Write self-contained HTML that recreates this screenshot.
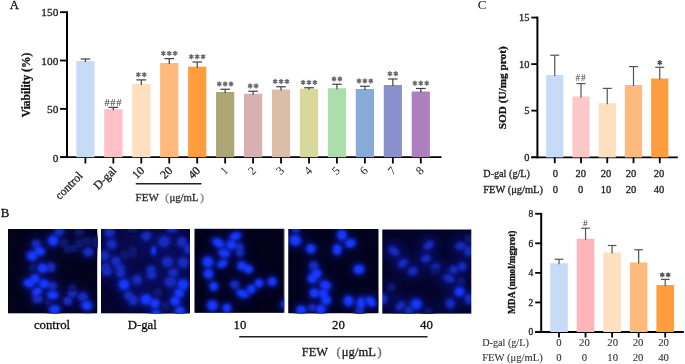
<!DOCTYPE html>
<html><head><meta charset="utf-8"><style>
html,body{margin:0;padding:0;background:#fff;}
svg{display:block;will-change:transform;}
text{font-family:"Liberation Serif", serif;}
</style></head><body>
<svg width="685" height="364" viewBox="0 0 685 364">
<defs>
<filter id="bl" x="-50%" y="-50%" width="200%" height="200%"><feGaussianBlur stdDeviation="1.1"/></filter>
<filter id="bl2" x="-50%" y="-50%" width="200%" height="200%"><feGaussianBlur stdDeviation="2.2"/></filter>
<filter id="bl3" x="-50%" y="-50%" width="200%" height="200%"><feGaussianBlur stdDeviation="5"/></filter>
</defs>
<rect width="685" height="364" fill="#fff"/>

<text x="9.7" y="9.0" font-size="12.8" fill="#111" stroke="#111" stroke-width="0.3">A</text>
<line x1="67.0" y1="11.294999999999993" x2="67.0" y2="158.1" stroke="#000" stroke-width="2"/>
<line x1="60" y1="157.20" x2="67.0" y2="157.20" stroke="#000" stroke-width="1.8"/>
<text x="58.3" y="161.50" font-size="11.3" text-anchor="end" fill="#222" stroke="#222" stroke-width="0.3">0</text>
<line x1="60" y1="108.86" x2="67.0" y2="108.86" stroke="#000" stroke-width="1.8"/>
<text x="58.3" y="113.16" font-size="11.3" text-anchor="end" fill="#222" stroke="#222" stroke-width="0.3">50</text>
<line x1="60" y1="60.53" x2="67.0" y2="60.53" stroke="#000" stroke-width="1.8"/>
<text x="58.3" y="64.83" font-size="11.3" text-anchor="end" fill="#222" stroke="#222" stroke-width="0.3">100</text>
<line x1="60" y1="12.19" x2="67.0" y2="12.19" stroke="#000" stroke-width="1.8"/>
<text x="58.3" y="16.49" font-size="11.3" text-anchor="end" fill="#222" stroke="#222" stroke-width="0.3">150</text>
<line x1="60" y1="157.2" x2="441.5" y2="157.2" stroke="#000" stroke-width="1.8"/>
<rect x="76.30" y="61" width="18.2" height="96.20" fill="#c6dbf6"/>
<line x1="85.40" y1="59" x2="85.40" y2="62" stroke="#404040" stroke-width="1.2"/>
<line x1="80.60" y1="59" x2="90.20" y2="59" stroke="#404040" stroke-width="1.2"/>
<line x1="85.40" y1="157" x2="85.40" y2="163.5" stroke="#000" stroke-width="1.8"/>
<text transform="translate(80.60,173.7) rotate(-45)" font-size="11.8" text-anchor="end" dominant-baseline="central" fill="#222" stroke="#222" stroke-width="0.3">control</text>
<rect x="104.25" y="109.2" width="18.2" height="48.00" fill="#ffc1c5"/>
<line x1="113.35" y1="107.4" x2="113.35" y2="110.2" stroke="#404040" stroke-width="1.2"/>
<line x1="108.55" y1="107.4" x2="118.15" y2="107.4" stroke="#404040" stroke-width="1.2"/>
<line x1="113.35" y1="157" x2="113.35" y2="163.5" stroke="#000" stroke-width="1.8"/>
<text x="113.35" y="105.80" font-size="10.5" text-anchor="middle" fill="#333" letter-spacing="0.7" stroke="none">###</text>
<text transform="translate(114.35,168.4) rotate(-45)" font-size="11.8" text-anchor="end" dominant-baseline="central" fill="#222" stroke="#222" stroke-width="0.3">D-gal</text>
<rect x="132.20" y="84" width="18.2" height="73.20" fill="#fedfc0"/>
<line x1="141.30" y1="79.9" x2="141.30" y2="85" stroke="#404040" stroke-width="1.2"/>
<line x1="136.50" y1="79.9" x2="146.10" y2="79.9" stroke="#404040" stroke-width="1.2"/>
<line x1="141.30" y1="157" x2="141.30" y2="163.5" stroke="#000" stroke-width="1.8"/>
<path d="M138.35,72.65L138.35,76.55M136.66,73.63L140.04,75.58M140.04,73.63L136.66,75.58M144.25,72.65L144.25,76.55M142.56,73.63L145.94,75.58M145.94,73.63L142.56,75.58" stroke="#6a6a6a" stroke-width="1.45" fill="none" stroke-linecap="round"/>
<text transform="translate(142.30,168.4) rotate(-45)" font-size="11.8" text-anchor="end" dominant-baseline="central" fill="#222" stroke="#222" stroke-width="0.3">10</text>
<rect x="160.15" y="63" width="18.2" height="94.20" fill="#feba7c"/>
<line x1="169.25" y1="58.6" x2="169.25" y2="64" stroke="#404040" stroke-width="1.2"/>
<line x1="164.45" y1="58.6" x2="174.05" y2="58.6" stroke="#404040" stroke-width="1.2"/>
<line x1="169.25" y1="157" x2="169.25" y2="163.5" stroke="#000" stroke-width="1.8"/>
<path d="M163.35,51.35L163.35,55.25M161.66,52.33L165.04,54.28M165.04,52.33L161.66,54.28M169.25,51.35L169.25,55.25M167.56,52.33L170.94,54.28M170.94,52.33L167.56,54.28M175.15,51.35L175.15,55.25M173.46,52.33L176.84,54.28M176.84,52.33L173.46,54.28" stroke="#6a6a6a" stroke-width="1.45" fill="none" stroke-linecap="round"/>
<text transform="translate(170.25,168.4) rotate(-45)" font-size="11.8" text-anchor="end" dominant-baseline="central" fill="#222" stroke="#222" stroke-width="0.3">20</text>
<rect x="188.10" y="66.7" width="18.2" height="90.50" fill="#fd9d3e"/>
<line x1="197.20" y1="62" x2="197.20" y2="67.7" stroke="#404040" stroke-width="1.2"/>
<line x1="192.40" y1="62" x2="202.00" y2="62" stroke="#404040" stroke-width="1.2"/>
<line x1="197.20" y1="157" x2="197.20" y2="163.5" stroke="#000" stroke-width="1.8"/>
<path d="M191.30,54.75L191.30,58.65M189.61,55.73L192.99,57.68M192.99,55.73L189.61,57.68M197.20,54.75L197.20,58.65M195.51,55.73L198.89,57.68M198.89,55.73L195.51,57.68M203.10,54.75L203.10,58.65M201.41,55.73L204.79,57.68M204.79,55.73L201.41,57.68" stroke="#6a6a6a" stroke-width="1.45" fill="none" stroke-linecap="round"/>
<text transform="translate(198.20,168.4) rotate(-45)" font-size="11.8" text-anchor="end" dominant-baseline="central" fill="#222" stroke="#222" stroke-width="0.3">40</text>
<rect x="216.05" y="92" width="18.2" height="65.20" fill="#aea574"/>
<line x1="225.15" y1="89.25" x2="225.15" y2="93" stroke="#404040" stroke-width="1.2"/>
<line x1="220.35" y1="89.25" x2="229.95" y2="89.25" stroke="#404040" stroke-width="1.2"/>
<line x1="225.15" y1="157" x2="225.15" y2="163.5" stroke="#000" stroke-width="1.8"/>
<path d="M219.25,82.00L219.25,85.90M217.56,82.98L220.94,84.92M220.94,82.98L217.56,84.92M225.15,82.00L225.15,85.90M223.46,82.98L226.84,84.92M226.84,82.98L223.46,84.92M231.05,82.00L231.05,85.90M229.36,82.98L232.74,84.92M232.74,82.98L229.36,84.92" stroke="#6a6a6a" stroke-width="1.45" fill="none" stroke-linecap="round"/>
<text transform="translate(226.15,168.4) rotate(-45)" font-size="11.8" text-anchor="end" dominant-baseline="central" fill="#222" stroke="none">1</text>
<rect x="244.00" y="93.75" width="18.2" height="63.45" fill="#d8b0b0"/>
<line x1="253.10" y1="91.25" x2="253.10" y2="94.75" stroke="#404040" stroke-width="1.2"/>
<line x1="248.30" y1="91.25" x2="257.90" y2="91.25" stroke="#404040" stroke-width="1.2"/>
<line x1="253.10" y1="157" x2="253.10" y2="163.5" stroke="#000" stroke-width="1.8"/>
<path d="M250.15,84.00L250.15,87.90M248.46,84.98L251.84,86.92M251.84,84.98L248.46,86.92M256.05,84.00L256.05,87.90M254.36,84.98L257.74,86.92M257.74,84.98L254.36,86.92" stroke="#6a6a6a" stroke-width="1.45" fill="none" stroke-linecap="round"/>
<text transform="translate(254.10,168.4) rotate(-45)" font-size="11.8" text-anchor="end" dominant-baseline="central" fill="#222" stroke="none">2</text>
<rect x="271.95" y="89.5" width="18.2" height="67.70" fill="#dcbea8"/>
<line x1="281.05" y1="86.75" x2="281.05" y2="90.5" stroke="#404040" stroke-width="1.2"/>
<line x1="276.25" y1="86.75" x2="285.85" y2="86.75" stroke="#404040" stroke-width="1.2"/>
<line x1="281.05" y1="157" x2="281.05" y2="163.5" stroke="#000" stroke-width="1.8"/>
<path d="M275.15,79.50L275.15,83.40M273.46,80.48L276.84,82.42M276.84,80.48L273.46,82.42M281.05,79.50L281.05,83.40M279.36,80.48L282.74,82.42M282.74,80.48L279.36,82.42M286.95,79.50L286.95,83.40M285.26,80.48L288.64,82.42M288.64,80.48L285.26,82.42" stroke="#6a6a6a" stroke-width="1.45" fill="none" stroke-linecap="round"/>
<text transform="translate(282.05,168.4) rotate(-45)" font-size="11.8" text-anchor="end" dominant-baseline="central" fill="#222" stroke="none">3</text>
<rect x="299.90" y="88.75" width="18.2" height="68.45" fill="#d8d89c"/>
<line x1="309.00" y1="87.75" x2="309.00" y2="89.75" stroke="#404040" stroke-width="1.2"/>
<line x1="304.20" y1="87.75" x2="313.80" y2="87.75" stroke="#404040" stroke-width="1.2"/>
<line x1="309.00" y1="157" x2="309.00" y2="163.5" stroke="#000" stroke-width="1.8"/>
<path d="M303.10,80.50L303.10,84.40M301.41,81.48L304.79,83.42M304.79,81.48L301.41,83.42M309.00,80.50L309.00,84.40M307.31,81.48L310.69,83.42M310.69,81.48L307.31,83.42M314.90,80.50L314.90,84.40M313.21,81.48L316.59,83.42M316.59,81.48L313.21,83.42" stroke="#6a6a6a" stroke-width="1.45" fill="none" stroke-linecap="round"/>
<text transform="translate(310.00,168.4) rotate(-45)" font-size="11.8" text-anchor="end" dominant-baseline="central" fill="#222" stroke="none">4</text>
<rect x="327.85" y="88.25" width="18.2" height="68.95" fill="#abdeab"/>
<line x1="336.95" y1="84.25" x2="336.95" y2="89.25" stroke="#404040" stroke-width="1.2"/>
<line x1="332.15" y1="84.25" x2="341.75" y2="84.25" stroke="#404040" stroke-width="1.2"/>
<line x1="336.95" y1="157" x2="336.95" y2="163.5" stroke="#000" stroke-width="1.8"/>
<path d="M334.00,77.00L334.00,80.90M332.31,77.98L335.69,79.92M335.69,77.98L332.31,79.92M339.90,77.00L339.90,80.90M338.21,77.98L341.59,79.92M341.59,77.98L338.21,79.92" stroke="#6a6a6a" stroke-width="1.45" fill="none" stroke-linecap="round"/>
<text transform="translate(337.95,168.4) rotate(-45)" font-size="11.8" text-anchor="end" dominant-baseline="central" fill="#222" stroke="none">5</text>
<rect x="355.80" y="89" width="18.2" height="68.20" fill="#87abd6"/>
<line x1="364.90" y1="86.25" x2="364.90" y2="90" stroke="#404040" stroke-width="1.2"/>
<line x1="360.10" y1="86.25" x2="369.70" y2="86.25" stroke="#404040" stroke-width="1.2"/>
<line x1="364.90" y1="157" x2="364.90" y2="163.5" stroke="#000" stroke-width="1.8"/>
<path d="M359.00,79.00L359.00,82.90M357.31,79.98L360.69,81.92M360.69,79.98L357.31,81.92M364.90,79.00L364.90,82.90M363.21,79.98L366.59,81.92M366.59,79.98L363.21,81.92M370.80,79.00L370.80,82.90M369.11,79.98L372.49,81.92M372.49,79.98L369.11,81.92" stroke="#6a6a6a" stroke-width="1.45" fill="none" stroke-linecap="round"/>
<text transform="translate(365.90,168.4) rotate(-45)" font-size="11.8" text-anchor="end" dominant-baseline="central" fill="#222" stroke="none">6</text>
<rect x="383.75" y="85" width="18.2" height="72.20" fill="#8a90cd"/>
<line x1="392.85" y1="79" x2="392.85" y2="86" stroke="#404040" stroke-width="1.2"/>
<line x1="388.05" y1="79" x2="397.65" y2="79" stroke="#404040" stroke-width="1.2"/>
<line x1="392.85" y1="157" x2="392.85" y2="163.5" stroke="#000" stroke-width="1.8"/>
<path d="M389.90,71.75L389.90,75.65M388.21,72.73L391.59,74.67M391.59,72.73L388.21,74.67M395.80,71.75L395.80,75.65M394.11,72.73L397.49,74.67M397.49,72.73L394.11,74.67" stroke="#6a6a6a" stroke-width="1.45" fill="none" stroke-linecap="round"/>
<text transform="translate(393.85,168.4) rotate(-45)" font-size="11.8" text-anchor="end" dominant-baseline="central" fill="#222" stroke="none">7</text>
<rect x="411.70" y="91.5" width="18.2" height="65.70" fill="#ae7fbf"/>
<line x1="420.80" y1="88.5" x2="420.80" y2="92.5" stroke="#404040" stroke-width="1.2"/>
<line x1="416.00" y1="88.5" x2="425.60" y2="88.5" stroke="#404040" stroke-width="1.2"/>
<line x1="420.80" y1="157" x2="420.80" y2="163.5" stroke="#000" stroke-width="1.8"/>
<path d="M414.90,81.25L414.90,85.15M413.21,82.23L416.59,84.17M416.59,82.23L413.21,84.17M420.80,81.25L420.80,85.15M419.11,82.23L422.49,84.17M422.49,82.23L419.11,84.17M426.70,81.25L426.70,85.15M425.01,82.23L428.39,84.17M428.39,82.23L425.01,84.17" stroke="#6a6a6a" stroke-width="1.45" fill="none" stroke-linecap="round"/>
<text transform="translate(421.80,168.4) rotate(-45)" font-size="11.8" text-anchor="end" dominant-baseline="central" fill="#222" stroke="none">8</text>
<line x1="135.75" y1="183.75" x2="201.5" y2="183.75" stroke="#222" stroke-width="1.3"/>
<text x="135.6" y="200.6" font-size="11" fill="#333" stroke="#333" stroke-width="0.3">FEW</text>
<text x="165.2" y="200.6" font-size="11" fill="#777" stroke="#777" stroke-width="0.3">(</text>
<text x="169.4" y="200.6" font-size="11" fill="#333" textLength="29.2" lengthAdjust="spacingAndGlyphs" stroke="#333" stroke-width="0.3">μg/mL</text>
<text x="200.2" y="200.6" font-size="11" fill="#777" stroke="#777" stroke-width="0.3">)</text>
<text transform="translate(30.4,85) rotate(-90)" font-size="11.5" font-weight="bold" text-anchor="middle" fill="#111" stroke="#111" stroke-width="0.3">Viability (%)</text>
<text x="477.7" y="9.4" font-size="13.2" fill="#111" stroke="none">C</text>
<line x1="537.4" y1="16.649999999999984" x2="537.4" y2="158.3" stroke="#000" stroke-width="2"/>
<line x1="531.3" y1="157.20" x2="537.4" y2="157.20" stroke="#000" stroke-width="1.8"/>
<text x="529.4" y="160.70" font-size="10.4" text-anchor="end" fill="#222" stroke="#222" stroke-width="0.3">0</text>
<line x1="531.3" y1="110.65" x2="537.4" y2="110.65" stroke="#000" stroke-width="1.8"/>
<text x="529.4" y="114.15" font-size="10.4" text-anchor="end" fill="#222" stroke="#222" stroke-width="0.3">5</text>
<line x1="531.3" y1="64.10" x2="537.4" y2="64.10" stroke="#000" stroke-width="1.8"/>
<text x="529.4" y="67.60" font-size="10.4" text-anchor="end" fill="#222" stroke="#222" stroke-width="0.3">10</text>
<line x1="531.3" y1="17.55" x2="537.4" y2="17.55" stroke="#000" stroke-width="1.8"/>
<text x="529.4" y="21.05" font-size="10.4" text-anchor="end" fill="#222" stroke="#222" stroke-width="0.3">15</text>
<line x1="531.3" y1="157.4" x2="677.8" y2="157.4" stroke="#000" stroke-width="1.8"/>
<rect x="546.15" y="75" width="17.2" height="82.40" fill="#c6dbf6"/>
<line x1="554.75" y1="55.2" x2="554.75" y2="76" stroke="#555" stroke-width="1.2"/>
<line x1="550.25" y1="55.2" x2="559.25" y2="55.2" stroke="#555" stroke-width="1.2"/>
<line x1="554.75" y1="157.4" x2="554.75" y2="163.2" stroke="#000" stroke-width="1.8"/>
<rect x="572.40" y="96.5" width="17.2" height="60.90" fill="#ffc8c8"/>
<line x1="581.00" y1="83.6" x2="581.00" y2="97.5" stroke="#555" stroke-width="1.2"/>
<line x1="576.50" y1="83.6" x2="585.50" y2="83.6" stroke="#555" stroke-width="1.2"/>
<line x1="581.00" y1="157.4" x2="581.00" y2="163.2" stroke="#000" stroke-width="1.8"/>
<text x="581.00" y="80.80" font-size="9.4" text-anchor="middle" fill="#444" letter-spacing="0.9" stroke="none">##</text>
<rect x="598.65" y="103.25" width="17.2" height="54.15" fill="#fedfc0"/>
<line x1="607.25" y1="88.4" x2="607.25" y2="104.25" stroke="#555" stroke-width="1.2"/>
<line x1="602.75" y1="88.4" x2="611.75" y2="88.4" stroke="#555" stroke-width="1.2"/>
<line x1="607.25" y1="157.4" x2="607.25" y2="163.2" stroke="#000" stroke-width="1.8"/>
<rect x="624.90" y="85" width="17.2" height="72.40" fill="#feba7c"/>
<line x1="633.50" y1="66.6" x2="633.50" y2="86" stroke="#555" stroke-width="1.2"/>
<line x1="629.00" y1="66.6" x2="638.00" y2="66.6" stroke="#555" stroke-width="1.2"/>
<line x1="633.50" y1="157.4" x2="633.50" y2="163.2" stroke="#000" stroke-width="1.8"/>
<rect x="651.15" y="78.5" width="17.2" height="78.90" fill="#fd9d3e"/>
<line x1="659.75" y1="67.3" x2="659.75" y2="79.5" stroke="#555" stroke-width="1.2"/>
<line x1="655.25" y1="67.3" x2="664.25" y2="67.3" stroke="#555" stroke-width="1.2"/>
<line x1="659.75" y1="157.4" x2="659.75" y2="163.2" stroke="#000" stroke-width="1.8"/>
<path d="M659.75,60.75L659.75,64.65M658.06,61.72L661.44,63.67M661.44,61.72L658.06,63.67" stroke="#505050" stroke-width="1.45" fill="none" stroke-linecap="round"/>
<text transform="translate(505.6,87.8) rotate(-90)" font-size="11.2" font-weight="bold" text-anchor="middle" fill="#111" textLength="83" lengthAdjust="spacingAndGlyphs" stroke="#111" stroke-width="0.3">SOD (U/mg prot)</text>
<text x="483.3" y="176.8" font-size="10.2" fill="#222" textLength="46.6" lengthAdjust="spacingAndGlyphs" stroke="#222" stroke-width="0.3">D-gal (g/L)</text>
<text x="483.3" y="193.3" font-size="10.2" fill="#222" textLength="59.6" lengthAdjust="spacingAndGlyphs" stroke="#222" stroke-width="0.3">FEW (μg/mL)</text>
<text x="555.40" y="176.8" font-size="10.5" text-anchor="middle" fill="#222" stroke="#222" stroke-width="0.3">0</text>
<text x="555.40" y="193.3" font-size="10.5" text-anchor="middle" fill="#222" stroke="#222" stroke-width="0.3">0</text>
<text x="580.70" y="176.8" font-size="10.5" text-anchor="middle" fill="#222" stroke="#222" stroke-width="0.3">20</text>
<text x="580.70" y="193.3" font-size="10.5" text-anchor="middle" fill="#222" stroke="#222" stroke-width="0.3">0</text>
<text x="605.90" y="176.8" font-size="10.5" text-anchor="middle" fill="#222" stroke="#222" stroke-width="0.3">20</text>
<text x="605.90" y="193.3" font-size="10.5" text-anchor="middle" fill="#222" stroke="#222" stroke-width="0.3">10</text>
<text x="631.00" y="176.8" font-size="10.5" text-anchor="middle" fill="#222" stroke="#222" stroke-width="0.3">20</text>
<text x="631.00" y="193.3" font-size="10.5" text-anchor="middle" fill="#222" stroke="#222" stroke-width="0.3">20</text>
<text x="659.10" y="176.8" font-size="10.5" text-anchor="middle" fill="#222" stroke="#222" stroke-width="0.3">20</text>
<text x="659.10" y="193.3" font-size="10.5" text-anchor="middle" fill="#222" stroke="#222" stroke-width="0.3">40</text>
<line x1="541.2" y1="212.85999999999999" x2="541.2" y2="332.9" stroke="#000" stroke-width="2"/>
<line x1="535.2" y1="332.00" x2="541.2" y2="332.00" stroke="#000" stroke-width="1.8"/>
<text x="533.2" y="335.30" font-size="9.4" text-anchor="end" fill="#222" stroke="#222" stroke-width="0.3">0</text>
<line x1="535.2" y1="302.44" x2="541.2" y2="302.44" stroke="#000" stroke-width="1.8"/>
<text x="533.2" y="305.74" font-size="9.4" text-anchor="end" fill="#222" stroke="#222" stroke-width="0.3">2</text>
<line x1="535.2" y1="272.88" x2="541.2" y2="272.88" stroke="#000" stroke-width="1.8"/>
<text x="533.2" y="276.18" font-size="9.4" text-anchor="end" fill="#222" stroke="#222" stroke-width="0.3">4</text>
<line x1="535.2" y1="243.32" x2="541.2" y2="243.32" stroke="#000" stroke-width="1.8"/>
<text x="533.2" y="246.62" font-size="9.4" text-anchor="end" fill="#222" stroke="#222" stroke-width="0.3">6</text>
<line x1="535.2" y1="213.76" x2="541.2" y2="213.76" stroke="#000" stroke-width="1.8"/>
<text x="533.2" y="217.06" font-size="9.4" text-anchor="end" fill="#222" stroke="#222" stroke-width="0.3">8</text>
<line x1="535.2" y1="332" x2="683.8" y2="332" stroke="#000" stroke-width="1.8"/>
<rect x="550.20" y="263.25" width="17.6" height="68.75" fill="#c6dbf6"/>
<line x1="559.00" y1="259.25" x2="559.00" y2="264.25" stroke="#555" stroke-width="1.2"/>
<line x1="554.70" y1="259.25" x2="563.30" y2="259.25" stroke="#555" stroke-width="1.2"/>
<line x1="559.00" y1="332" x2="559.00" y2="337.5" stroke="#000" stroke-width="1.8"/>
<rect x="576.75" y="238.75" width="17.6" height="93.25" fill="#ffb4b9"/>
<line x1="585.55" y1="228.25" x2="585.55" y2="239.75" stroke="#555" stroke-width="1.2"/>
<line x1="581.25" y1="228.25" x2="589.85" y2="228.25" stroke="#555" stroke-width="1.2"/>
<line x1="585.55" y1="332" x2="585.55" y2="337.5" stroke="#000" stroke-width="1.8"/>
<text x="585.55" y="225.95" font-size="9" text-anchor="middle" fill="#333" letter-spacing="0.7" stroke="none">#</text>
<rect x="603.30" y="252.5" width="17.6" height="79.50" fill="#fedfc0"/>
<line x1="612.10" y1="245.5" x2="612.10" y2="253.5" stroke="#555" stroke-width="1.2"/>
<line x1="607.80" y1="245.5" x2="616.40" y2="245.5" stroke="#555" stroke-width="1.2"/>
<line x1="612.10" y1="332" x2="612.10" y2="337.5" stroke="#000" stroke-width="1.8"/>
<rect x="629.85" y="262.5" width="17.6" height="69.50" fill="#feba7c"/>
<line x1="638.65" y1="249.75" x2="638.65" y2="263.5" stroke="#555" stroke-width="1.2"/>
<line x1="634.35" y1="249.75" x2="642.95" y2="249.75" stroke="#555" stroke-width="1.2"/>
<line x1="638.65" y1="332" x2="638.65" y2="337.5" stroke="#000" stroke-width="1.8"/>
<rect x="656.40" y="285" width="17.6" height="47.00" fill="#fd9d3e"/>
<line x1="665.20" y1="279.4" x2="665.20" y2="286" stroke="#555" stroke-width="1.2"/>
<line x1="660.90" y1="279.4" x2="669.50" y2="279.4" stroke="#555" stroke-width="1.2"/>
<line x1="665.20" y1="332" x2="665.20" y2="337.5" stroke="#000" stroke-width="1.8"/>
<path d="M662.25,272.85L662.25,276.75M660.56,273.82L663.94,275.77M663.94,273.82L660.56,275.77M668.15,272.85L668.15,276.75M666.46,273.82L669.84,275.77M669.84,273.82L666.46,275.77" stroke="#555" stroke-width="1.45" fill="none" stroke-linecap="round"/>
<text transform="translate(515.0,272.3) rotate(-90)" font-size="10.3" font-weight="bold" text-anchor="middle" fill="#111" textLength="83.5" lengthAdjust="spacingAndGlyphs" stroke="#111" stroke-width="0.3">MDA (nmol/mgprot)</text>
<text x="482.2" y="345.8" font-size="10.2" fill="#333" stroke="#333" stroke-width="0.1" textLength="46.6" lengthAdjust="spacingAndGlyphs">D-gal (g/L)</text>
<text x="482.2" y="360.7" font-size="10.2" fill="#333" stroke="#333" stroke-width="0.1" textLength="60.6" lengthAdjust="spacingAndGlyphs">FEW (μg/mL)</text>
<text x="558.80" y="345.8" font-size="10.7" text-anchor="middle" fill="#333" stroke="#333" stroke-width="0.1">0</text>
<text x="558.80" y="360.7" font-size="10.7" text-anchor="middle" fill="#333" stroke="#333" stroke-width="0.1">0</text>
<text x="584.40" y="345.8" font-size="10.7" text-anchor="middle" fill="#333" stroke="#333" stroke-width="0.1">20</text>
<text x="584.40" y="360.7" font-size="10.7" text-anchor="middle" fill="#333" stroke="#333" stroke-width="0.1">0</text>
<text x="612.70" y="345.8" font-size="10.7" text-anchor="middle" fill="#333" stroke="#333" stroke-width="0.1">20</text>
<text x="612.70" y="360.7" font-size="10.7" text-anchor="middle" fill="#333" stroke="#333" stroke-width="0.1">10</text>
<text x="638.10" y="345.8" font-size="10.7" text-anchor="middle" fill="#333" stroke="#333" stroke-width="0.1">20</text>
<text x="638.10" y="360.7" font-size="10.7" text-anchor="middle" fill="#333" stroke="#333" stroke-width="0.1">20</text>
<text x="663.50" y="345.8" font-size="10.7" text-anchor="middle" fill="#333" stroke="#333" stroke-width="0.1">20</text>
<text x="663.50" y="360.7" font-size="10.7" text-anchor="middle" fill="#333" stroke="#333" stroke-width="0.1">40</text>
<text x="0.8" y="216.8" font-size="12.9" fill="#111" stroke="#111" stroke-width="0.3">B</text>
<svg x="8" y="229" width="89.2" height="84.3" viewBox="0 0 89.2 84.3" overflow="hidden">
<rect width="89.2" height="84.3" fill="#04031c"/>
<g filter="url(#bl3)" opacity="0.25">
<circle cx="51.2" cy="2.6" r="9.00" fill="#0a1490"/>
<circle cx="45.3" cy="11.6" r="10.00" fill="#0a1490"/>
<circle cx="28.3" cy="15.1" r="9.00" fill="#0a1490"/>
<circle cx="31.5" cy="22.1" r="10.00" fill="#0a1490"/>
<circle cx="24.3" cy="26.9" r="10.00" fill="#0a1490"/>
<circle cx="55.2" cy="13.8" r="10.00" fill="#0a1490"/>
<circle cx="59.8" cy="19.7" r="8.00" fill="#0a1490"/>
<circle cx="71.6" cy="14.5" r="10.00" fill="#0a1490"/>
<circle cx="78.8" cy="12.5" r="10.00" fill="#0a1490"/>
<circle cx="80.2" cy="23" r="10.00" fill="#0a1490"/>
<circle cx="87.4" cy="13.1" r="10.00" fill="#0a1490"/>
<circle cx="71" cy="2.6" r="9.00" fill="#0a1490"/>
<circle cx="34.8" cy="39.2" r="10.00" fill="#0a1490"/>
<circle cx="42.7" cy="38.4" r="9.00" fill="#0a1490"/>
<circle cx="25" cy="38.8" r="8.00" fill="#0a1490"/>
<circle cx="65.7" cy="19" r="8.00" fill="#0a1490"/>
<circle cx="26.9" cy="49.9" r="9.00" fill="#0a1490"/>
<circle cx="21" cy="54.1" r="10.00" fill="#0a1490"/>
<circle cx="36.1" cy="54.8" r="9.00" fill="#0a1490"/>
<circle cx="44" cy="56.8" r="10.00" fill="#0a1490"/>
<circle cx="28.9" cy="62.7" r="10.00" fill="#0a1490"/>
<circle cx="44.7" cy="66.2" r="11.00" fill="#0a1490"/>
<circle cx="29.6" cy="69.9" r="10.00" fill="#0a1490"/>
<circle cx="40.7" cy="72.5" r="9.00" fill="#0a1490"/>
<circle cx="64.4" cy="64" r="9.00" fill="#0a1490"/>
<circle cx="74.9" cy="67.9" r="10.00" fill="#0a1490"/>
<circle cx="59.8" cy="71.9" r="9.00" fill="#0a1490"/>
<circle cx="78.8" cy="76.5" r="10.00" fill="#0a1490"/>
<circle cx="46.6" cy="80.4" r="10.00" fill="#0a1490"/>
<circle cx="64.4" cy="59.4" r="8.00" fill="#0a1490"/>
</g>
<g filter="url(#bl2)">
<ellipse cx="51.2" cy="2.6" rx="6.08" ry="6.08" fill="#0a187a"/>
<ellipse cx="45.3" cy="11.6" rx="6.75" ry="6.48" fill="#0f24b0"/>
<ellipse cx="28.3" cy="15.1" rx="6.08" ry="5.67" fill="#0a187a"/>
<ellipse cx="31.5" cy="22.1" rx="6.75" ry="5.40" fill="#0f24b0" transform="rotate(10 31.5 22.1)"/>
<ellipse cx="24.3" cy="26.9" rx="6.75" ry="6.21" fill="#0f24b0"/>
<ellipse cx="55.2" cy="13.8" rx="6.75" ry="6.08" fill="#070e40"/>
<ellipse cx="59.8" cy="19.7" rx="5.40" ry="5.40" fill="#070e40"/>
<ellipse cx="71.6" cy="14.5" rx="6.75" ry="6.08" fill="#070e40"/>
<ellipse cx="78.8" cy="12.5" rx="6.75" ry="6.08" fill="#070e40"/>
<ellipse cx="80.2" cy="23" rx="6.75" ry="6.08" fill="#0a187a"/>
<ellipse cx="87.4" cy="13.1" rx="5.40" ry="6.75" fill="#070e40"/>
<ellipse cx="71" cy="2.6" rx="6.08" ry="5.40" fill="#070e40"/>
<ellipse cx="34.8" cy="39.2" rx="6.75" ry="6.08" fill="#0f24b0"/>
<ellipse cx="42.7" cy="38.4" rx="6.08" ry="6.08" fill="#0a187a"/>
<ellipse cx="25" cy="38.8" rx="5.40" ry="5.40" fill="#070e40"/>
<ellipse cx="65.7" cy="19" rx="5.40" ry="5.40" fill="#070e40"/>
<ellipse cx="26.9" cy="49.9" rx="6.08" ry="5.67" fill="#0f24b0"/>
<ellipse cx="21" cy="54.1" rx="6.75" ry="5.40" fill="#0f24b0" transform="rotate(20 21 54.1)"/>
<ellipse cx="36.1" cy="54.8" rx="6.08" ry="5.80" fill="#0f24b0"/>
<ellipse cx="44" cy="56.8" rx="6.75" ry="5.40" fill="#0a187a" transform="rotate(10 44 56.8)"/>
<ellipse cx="28.9" cy="62.7" rx="6.75" ry="4.86" fill="#0f24b0" transform="rotate(-30 28.9 62.7)"/>
<ellipse cx="44.7" cy="66.2" rx="7.43" ry="5.40" fill="#0f24b0"/>
<ellipse cx="29.6" cy="69.9" rx="6.75" ry="5.40" fill="#0a187a"/>
<ellipse cx="40.7" cy="72.5" rx="6.08" ry="5.40" fill="#070e40"/>
<ellipse cx="64.4" cy="64" rx="6.08" ry="6.08" fill="#0a187a"/>
<ellipse cx="74.9" cy="67.9" rx="6.75" ry="6.08" fill="#0a187a"/>
<ellipse cx="59.8" cy="71.9" rx="6.08" ry="5.67" fill="#0a187a"/>
<ellipse cx="78.8" cy="76.5" rx="6.75" ry="6.08" fill="#0f24b0" transform="rotate(20 78.8 76.5)"/>
<ellipse cx="46.6" cy="80.4" rx="6.75" ry="5.40" fill="#0f24b0"/>
<ellipse cx="64.4" cy="59.4" rx="5.40" ry="5.40" fill="#070e40"/>
</g>
<g filter="url(#bl)">
<ellipse cx="51.2" cy="2.6" rx="4.05" ry="4.05" fill="#1229bc"/>
<ellipse cx="45.3" cy="11.6" rx="4.50" ry="4.32" fill="#1838ff"/>
<ellipse cx="28.3" cy="15.1" rx="4.05" ry="3.78" fill="#1229bc"/>
<ellipse cx="31.5" cy="22.1" rx="4.50" ry="3.60" fill="#1838ff" transform="rotate(10 31.5 22.1)"/>
<ellipse cx="24.3" cy="26.9" rx="4.50" ry="4.14" fill="#1838ff"/>
<ellipse cx="55.2" cy="13.8" rx="4.50" ry="4.05" fill="#0a1772"/>
<ellipse cx="59.8" cy="19.7" rx="3.60" ry="3.60" fill="#0a1772"/>
<ellipse cx="71.6" cy="14.5" rx="4.50" ry="4.05" fill="#0a1772"/>
<ellipse cx="78.8" cy="12.5" rx="4.50" ry="4.05" fill="#0a1772"/>
<ellipse cx="80.2" cy="23" rx="4.50" ry="4.05" fill="#1229bc"/>
<ellipse cx="87.4" cy="13.1" rx="3.60" ry="4.50" fill="#0a1772"/>
<ellipse cx="71" cy="2.6" rx="4.05" ry="3.60" fill="#0a1772"/>
<ellipse cx="34.8" cy="39.2" rx="4.50" ry="4.05" fill="#1838ff"/>
<ellipse cx="42.7" cy="38.4" rx="4.05" ry="4.05" fill="#1229bc"/>
<ellipse cx="25" cy="38.8" rx="3.60" ry="3.60" fill="#0a1772"/>
<ellipse cx="65.7" cy="19" rx="3.60" ry="3.60" fill="#0a1772"/>
<ellipse cx="26.9" cy="49.9" rx="4.05" ry="3.78" fill="#1838ff"/>
<ellipse cx="21" cy="54.1" rx="4.50" ry="3.60" fill="#1838ff" transform="rotate(20 21 54.1)"/>
<ellipse cx="36.1" cy="54.8" rx="4.05" ry="3.87" fill="#1838ff"/>
<ellipse cx="44" cy="56.8" rx="4.50" ry="3.60" fill="#1229bc" transform="rotate(10 44 56.8)"/>
<ellipse cx="28.9" cy="62.7" rx="4.50" ry="3.24" fill="#1838ff" transform="rotate(-30 28.9 62.7)"/>
<ellipse cx="44.7" cy="66.2" rx="4.95" ry="3.60" fill="#1838ff"/>
<ellipse cx="29.6" cy="69.9" rx="4.50" ry="3.60" fill="#1229bc"/>
<ellipse cx="40.7" cy="72.5" rx="4.05" ry="3.60" fill="#0a1772"/>
<ellipse cx="64.4" cy="64" rx="4.05" ry="4.05" fill="#1229bc"/>
<ellipse cx="74.9" cy="67.9" rx="4.50" ry="4.05" fill="#1229bc"/>
<ellipse cx="59.8" cy="71.9" rx="4.05" ry="3.78" fill="#1229bc"/>
<ellipse cx="78.8" cy="76.5" rx="4.50" ry="4.05" fill="#1838ff" transform="rotate(20 78.8 76.5)"/>
<ellipse cx="46.6" cy="80.4" rx="4.50" ry="3.60" fill="#1838ff"/>
<ellipse cx="64.4" cy="59.4" rx="3.60" ry="3.60" fill="#0a1772"/>
</g></svg>
<svg x="101" y="229" width="89" height="84.3" viewBox="0 0 89 84.3" overflow="hidden">
<rect width="89" height="84.3" fill="#05042c"/>
<g filter="url(#bl3)" opacity="0.45">
<circle cx="8.5" cy="3.3" r="10.00" fill="#0a1490"/>
<circle cx="10.5" cy="15.1" r="10.00" fill="#0a1490"/>
<circle cx="3.3" cy="26.9" r="10.00" fill="#0a1490"/>
<circle cx="15.1" cy="32.2" r="10.00" fill="#0a1490"/>
<circle cx="4.6" cy="38.8" r="10.00" fill="#0a1490"/>
<circle cx="31.5" cy="23" r="12.00" fill="#0a1490"/>
<circle cx="23.7" cy="26.3" r="10.00" fill="#0a1490"/>
<circle cx="45.3" cy="7.2" r="10.00" fill="#0a1490"/>
<circle cx="52.6" cy="21.7" r="9.00" fill="#0a1490"/>
<circle cx="63.1" cy="12.5" r="12.00" fill="#0a1490"/>
<circle cx="80.8" cy="13.1" r="10.00" fill="#0a1490"/>
<circle cx="66.4" cy="32.9" r="11.00" fill="#0a1490"/>
<circle cx="82.1" cy="33.5" r="11.00" fill="#0a1490"/>
<circle cx="86.7" cy="19.7" r="10.00" fill="#0a1490"/>
<circle cx="19" cy="39.4" r="10.00" fill="#0a1490"/>
<circle cx="71" cy="0.5" r="10.00" fill="#0a1490"/>
<circle cx="31.5" cy="0.5" r="10.00" fill="#0a1490"/>
<circle cx="50" cy="40.7" r="9.00" fill="#0a1490"/>
<circle cx="5.9" cy="42.3" r="10.00" fill="#0a1490"/>
<circle cx="19.7" cy="44.3" r="9.00" fill="#0a1490"/>
<circle cx="50.6" cy="45.6" r="10.00" fill="#0a1490"/>
<circle cx="72.3" cy="43.6" r="10.00" fill="#0a1490"/>
<circle cx="23" cy="55.5" r="10.00" fill="#0a1490"/>
<circle cx="36.1" cy="50.9" r="10.00" fill="#0a1490"/>
<circle cx="69.6" cy="52.8" r="12.00" fill="#0a1490"/>
<circle cx="82.1" cy="55.5" r="10.00" fill="#0a1490"/>
<circle cx="78.2" cy="64" r="9.00" fill="#0a1490"/>
<circle cx="74.2" cy="71.9" r="9.00" fill="#0a1490"/>
<circle cx="27.6" cy="66.6" r="9.00" fill="#0a1490"/>
<circle cx="32.2" cy="71.2" r="10.00" fill="#0a1490"/>
<circle cx="45.3" cy="70.6" r="11.00" fill="#0a1490"/>
<circle cx="53.9" cy="74.5" r="9.00" fill="#0a1490"/>
<circle cx="78.8" cy="81.7" r="9.00" fill="#0a1490"/>
<circle cx="56.5" cy="63.3" r="9.00" fill="#0a1490"/>
<circle cx="64.4" cy="77.1" r="9.00" fill="#0a1490"/>
<circle cx="55.2" cy="84.4" r="9.00" fill="#0a1490"/>
</g>
<g filter="url(#bl2)">
<ellipse cx="8.5" cy="3.3" rx="6.75" ry="6.75" fill="#0a187a"/>
<ellipse cx="10.5" cy="15.1" rx="6.75" ry="6.75" fill="#0a187a"/>
<ellipse cx="3.3" cy="26.9" rx="6.75" ry="6.75" fill="#0a187a"/>
<ellipse cx="15.1" cy="32.2" rx="6.75" ry="6.75" fill="#0a187a"/>
<ellipse cx="4.6" cy="38.8" rx="6.75" ry="6.08" fill="#0a187a"/>
<ellipse cx="31.5" cy="23" rx="6.08" ry="8.10" fill="#070e40"/>
<ellipse cx="23.7" cy="26.3" rx="6.75" ry="6.75" fill="#070e40"/>
<ellipse cx="45.3" cy="7.2" rx="6.75" ry="6.08" fill="#0a187a" transform="rotate(-30 45.3 7.2)"/>
<ellipse cx="52.6" cy="21.7" rx="2.97" ry="6.08" fill="#0f24b0"/>
<ellipse cx="63.1" cy="12.5" rx="8.10" ry="8.10" fill="#0a187a"/>
<ellipse cx="80.8" cy="13.1" rx="6.75" ry="6.75" fill="#0a187a"/>
<ellipse cx="66.4" cy="32.9" rx="7.43" ry="7.43" fill="#0a187a"/>
<ellipse cx="82.1" cy="33.5" rx="7.43" ry="7.43" fill="#0a187a"/>
<ellipse cx="86.7" cy="19.7" rx="5.40" ry="6.75" fill="#0a187a"/>
<ellipse cx="19" cy="39.4" rx="6.75" ry="6.08" fill="#0a187a"/>
<ellipse cx="71" cy="0.5" rx="6.75" ry="4.05" fill="#0a187a"/>
<ellipse cx="31.5" cy="0.5" rx="6.75" ry="4.05" fill="#070e40"/>
<ellipse cx="50" cy="40.7" rx="6.08" ry="6.08" fill="#0a187a"/>
<ellipse cx="5.9" cy="42.3" rx="6.75" ry="6.08" fill="#0a187a"/>
<ellipse cx="19.7" cy="44.3" rx="6.08" ry="6.08" fill="#0a187a"/>
<ellipse cx="50.6" cy="45.6" rx="6.75" ry="6.75" fill="#0a187a"/>
<ellipse cx="72.3" cy="43.6" rx="6.75" ry="6.08" fill="#0a187a"/>
<ellipse cx="23" cy="55.5" rx="6.75" ry="6.75" fill="#0f24b0"/>
<ellipse cx="36.1" cy="50.9" rx="6.75" ry="6.75" fill="#0a187a"/>
<ellipse cx="69.6" cy="52.8" rx="8.10" ry="7.43" fill="#0a187a"/>
<ellipse cx="82.1" cy="55.5" rx="6.75" ry="6.75" fill="#0f24b0"/>
<ellipse cx="78.2" cy="64" rx="6.08" ry="5.80" fill="#0f24b0"/>
<ellipse cx="74.2" cy="71.9" rx="6.08" ry="5.80" fill="#0f24b0"/>
<ellipse cx="27.6" cy="66.6" rx="6.08" ry="6.08" fill="#0a187a"/>
<ellipse cx="32.2" cy="71.2" rx="6.75" ry="6.75" fill="#0a187a"/>
<ellipse cx="45.3" cy="70.6" rx="7.43" ry="6.75" fill="#0f24b0"/>
<ellipse cx="53.9" cy="74.5" rx="6.08" ry="6.08" fill="#0f24b0"/>
<ellipse cx="78.8" cy="81.7" rx="6.08" ry="5.40" fill="#0f24b0"/>
<ellipse cx="56.5" cy="63.3" rx="6.08" ry="6.08" fill="#070e40"/>
<ellipse cx="64.4" cy="77.1" rx="6.08" ry="6.08" fill="#070e40"/>
<ellipse cx="55.2" cy="84.4" rx="6.08" ry="4.05" fill="#0f24b0"/>
</g>
<g filter="url(#bl)">
<ellipse cx="8.5" cy="3.3" rx="4.50" ry="4.50" fill="#1229bc"/>
<ellipse cx="10.5" cy="15.1" rx="4.50" ry="4.50" fill="#1229bc"/>
<ellipse cx="3.3" cy="26.9" rx="4.50" ry="4.50" fill="#1229bc"/>
<ellipse cx="15.1" cy="32.2" rx="4.50" ry="4.50" fill="#1229bc"/>
<ellipse cx="4.6" cy="38.8" rx="4.50" ry="4.05" fill="#1229bc"/>
<ellipse cx="31.5" cy="23" rx="4.05" ry="5.40" fill="#0a1772"/>
<ellipse cx="23.7" cy="26.3" rx="4.50" ry="4.50" fill="#0a1772"/>
<ellipse cx="45.3" cy="7.2" rx="4.50" ry="4.05" fill="#1229bc" transform="rotate(-30 45.3 7.2)"/>
<ellipse cx="52.6" cy="21.7" rx="1.98" ry="4.05" fill="#1838ff"/>
<ellipse cx="63.1" cy="12.5" rx="5.40" ry="5.40" fill="#1229bc"/>
<ellipse cx="80.8" cy="13.1" rx="4.50" ry="4.50" fill="#1229bc"/>
<ellipse cx="66.4" cy="32.9" rx="4.95" ry="4.95" fill="#1229bc"/>
<ellipse cx="82.1" cy="33.5" rx="4.95" ry="4.95" fill="#1229bc"/>
<ellipse cx="86.7" cy="19.7" rx="3.60" ry="4.50" fill="#1229bc"/>
<ellipse cx="19" cy="39.4" rx="4.50" ry="4.05" fill="#1229bc"/>
<ellipse cx="71" cy="0.5" rx="4.50" ry="2.70" fill="#1229bc"/>
<ellipse cx="31.5" cy="0.5" rx="4.50" ry="2.70" fill="#0a1772"/>
<ellipse cx="50" cy="40.7" rx="4.05" ry="4.05" fill="#1229bc"/>
<ellipse cx="5.9" cy="42.3" rx="4.50" ry="4.05" fill="#1229bc"/>
<ellipse cx="19.7" cy="44.3" rx="4.05" ry="4.05" fill="#1229bc"/>
<ellipse cx="50.6" cy="45.6" rx="4.50" ry="4.50" fill="#1229bc"/>
<ellipse cx="72.3" cy="43.6" rx="4.50" ry="4.05" fill="#1229bc"/>
<ellipse cx="23" cy="55.5" rx="4.50" ry="4.50" fill="#1838ff"/>
<ellipse cx="36.1" cy="50.9" rx="4.50" ry="4.50" fill="#1229bc"/>
<ellipse cx="69.6" cy="52.8" rx="5.40" ry="4.95" fill="#1229bc"/>
<ellipse cx="82.1" cy="55.5" rx="4.50" ry="4.50" fill="#1838ff"/>
<ellipse cx="78.2" cy="64" rx="4.05" ry="3.87" fill="#1838ff"/>
<ellipse cx="74.2" cy="71.9" rx="4.05" ry="3.87" fill="#1838ff"/>
<ellipse cx="27.6" cy="66.6" rx="4.05" ry="4.05" fill="#1229bc"/>
<ellipse cx="32.2" cy="71.2" rx="4.50" ry="4.50" fill="#1229bc"/>
<ellipse cx="45.3" cy="70.6" rx="4.95" ry="4.50" fill="#1838ff"/>
<ellipse cx="53.9" cy="74.5" rx="4.05" ry="4.05" fill="#1838ff"/>
<ellipse cx="78.8" cy="81.7" rx="4.05" ry="3.60" fill="#1838ff"/>
<ellipse cx="56.5" cy="63.3" rx="4.05" ry="4.05" fill="#0a1772"/>
<ellipse cx="64.4" cy="77.1" rx="4.05" ry="4.05" fill="#0a1772"/>
<ellipse cx="55.2" cy="84.4" rx="4.05" ry="2.70" fill="#1838ff"/>
</g></svg>
<svg x="194.5" y="228.8" width="89.7" height="84.2" viewBox="0 0 89.7 84.2" overflow="hidden">
<rect width="89.7" height="84.2" fill="#03021a"/>
<g filter="url(#bl3)" opacity="0.2">
<circle cx="23.8" cy="14" r="12.00" fill="#0a1490"/>
<circle cx="40.9" cy="7.4" r="11.00" fill="#0a1490"/>
<circle cx="37" cy="16" r="9.20" fill="#0a1490"/>
<circle cx="44.8" cy="18.6" r="9.20" fill="#0a1490"/>
<circle cx="29.7" cy="24.5" r="11.00" fill="#0a1490"/>
<circle cx="45.5" cy="23.9" r="8.00" fill="#0a1490"/>
<circle cx="13.3" cy="33" r="10.00" fill="#0a1490"/>
<circle cx="27.8" cy="35" r="10.00" fill="#0a1490"/>
<circle cx="47.5" cy="37" r="9.00" fill="#0a1490"/>
<circle cx="54" cy="40.3" r="8.40" fill="#0a1490"/>
<circle cx="14" cy="45.1" r="9.00" fill="#0a1490"/>
<circle cx="19.2" cy="57.6" r="8.40" fill="#0a1490"/>
<circle cx="40.2" cy="55.7" r="9.00" fill="#0a1490"/>
<circle cx="64.5" cy="54.3" r="8.00" fill="#0a1490"/>
<circle cx="77.7" cy="52.8" r="8.40" fill="#0a1490"/>
<circle cx="56.7" cy="60.3" r="8.00" fill="#0a1490"/>
<circle cx="48.1" cy="64.9" r="12.00" fill="#0a1490"/>
<circle cx="17.9" cy="76.7" r="10.00" fill="#0a1490"/>
<circle cx="32.4" cy="79.3" r="8.40" fill="#0a1490"/>
<circle cx="88.9" cy="75.4" r="8.00" fill="#0a1490"/>
</g>
<g filter="url(#bl2)">
<ellipse cx="23.8" cy="14" rx="8.10" ry="5.40" fill="#0f24b0" transform="rotate(30 23.8 14)"/>
<ellipse cx="40.9" cy="7.4" rx="7.43" ry="4.86" fill="#0f24b0" transform="rotate(-20 40.9 7.4)"/>
<ellipse cx="37" cy="16" rx="6.21" ry="6.08" fill="#0f24b0"/>
<ellipse cx="44.8" cy="18.6" rx="6.21" ry="6.08" fill="#0a187a"/>
<ellipse cx="29.7" cy="24.5" rx="7.43" ry="5.40" fill="#0f24b0" transform="rotate(15 29.7 24.5)"/>
<ellipse cx="45.5" cy="23.9" rx="5.40" ry="5.40" fill="#0a187a"/>
<ellipse cx="13.3" cy="33" rx="6.75" ry="6.75" fill="#0f24b0"/>
<ellipse cx="27.8" cy="35" rx="6.75" ry="4.73" fill="#0f24b0" transform="rotate(-25 27.8 35)"/>
<ellipse cx="47.5" cy="37" rx="6.08" ry="5.80" fill="#0f24b0"/>
<ellipse cx="54" cy="40.3" rx="5.67" ry="5.40" fill="#0f24b0"/>
<ellipse cx="14" cy="45.1" rx="6.08" ry="6.08" fill="#0f24b0"/>
<ellipse cx="19.2" cy="57.6" rx="5.40" ry="5.67" fill="#0f24b0"/>
<ellipse cx="40.2" cy="55.7" rx="6.08" ry="5.67" fill="#0a187a"/>
<ellipse cx="64.5" cy="54.3" rx="5.40" ry="5.40" fill="#0f24b0"/>
<ellipse cx="77.7" cy="52.8" rx="5.67" ry="5.67" fill="#0f24b0"/>
<ellipse cx="56.7" cy="60.3" rx="5.40" ry="5.40" fill="#0f24b0" transform="rotate(-30 56.7 60.3)"/>
<ellipse cx="48.1" cy="64.9" rx="8.10" ry="4.86" fill="#0f24b0" transform="rotate(20 48.1 64.9)"/>
<ellipse cx="17.9" cy="76.7" rx="6.75" ry="6.75" fill="#0f24b0"/>
<ellipse cx="32.4" cy="79.3" rx="5.40" ry="5.67" fill="#0f24b0"/>
<ellipse cx="88.9" cy="75.4" rx="4.05" ry="5.40" fill="#0a187a"/>
</g>
<g filter="url(#bl)">
<ellipse cx="23.8" cy="14" rx="5.40" ry="3.60" fill="#1838ff" transform="rotate(30 23.8 14)"/>
<ellipse cx="40.9" cy="7.4" rx="4.95" ry="3.24" fill="#1838ff" transform="rotate(-20 40.9 7.4)"/>
<ellipse cx="37" cy="16" rx="4.14" ry="4.05" fill="#1838ff"/>
<ellipse cx="44.8" cy="18.6" rx="4.14" ry="4.05" fill="#1229bc"/>
<ellipse cx="29.7" cy="24.5" rx="4.95" ry="3.60" fill="#1838ff" transform="rotate(15 29.7 24.5)"/>
<ellipse cx="45.5" cy="23.9" rx="3.60" ry="3.60" fill="#1229bc"/>
<ellipse cx="13.3" cy="33" rx="4.50" ry="4.50" fill="#1838ff"/>
<ellipse cx="27.8" cy="35" rx="4.50" ry="3.15" fill="#1838ff" transform="rotate(-25 27.8 35)"/>
<ellipse cx="47.5" cy="37" rx="4.05" ry="3.87" fill="#1838ff"/>
<ellipse cx="54" cy="40.3" rx="3.78" ry="3.60" fill="#1838ff"/>
<ellipse cx="14" cy="45.1" rx="4.05" ry="4.05" fill="#1838ff"/>
<ellipse cx="19.2" cy="57.6" rx="3.60" ry="3.78" fill="#1838ff"/>
<ellipse cx="40.2" cy="55.7" rx="4.05" ry="3.78" fill="#1229bc"/>
<ellipse cx="64.5" cy="54.3" rx="3.60" ry="3.60" fill="#1838ff"/>
<ellipse cx="77.7" cy="52.8" rx="3.78" ry="3.78" fill="#1838ff"/>
<ellipse cx="56.7" cy="60.3" rx="3.60" ry="3.60" fill="#1838ff" transform="rotate(-30 56.7 60.3)"/>
<ellipse cx="48.1" cy="64.9" rx="5.40" ry="3.24" fill="#1838ff" transform="rotate(20 48.1 64.9)"/>
<ellipse cx="17.9" cy="76.7" rx="4.50" ry="4.50" fill="#1838ff"/>
<ellipse cx="32.4" cy="79.3" rx="3.60" ry="3.78" fill="#1838ff"/>
<ellipse cx="88.9" cy="75.4" rx="2.70" ry="3.60" fill="#1229bc"/>
</g></svg>
<svg x="288.25" y="229" width="90.3" height="84.2" viewBox="0 0 90.3 84.2" overflow="hidden">
<rect width="90.3" height="84.2" fill="#03031e"/>
<g filter="url(#bl3)" opacity="0.2">
<circle cx="7" cy="11.2" r="11.00" fill="#0a1490"/>
<circle cx="7.6" cy="0.5" r="8.00" fill="#0a1490"/>
<circle cx="22.7" cy="19.7" r="9.00" fill="#0a1490"/>
<circle cx="53.6" cy="5.9" r="10.00" fill="#0a1490"/>
<circle cx="62.2" cy="14.2" r="10.00" fill="#0a1490"/>
<circle cx="49" cy="20.4" r="10.00" fill="#0a1490"/>
<circle cx="70.7" cy="40.3" r="10.00" fill="#0a1490"/>
<circle cx="25.4" cy="36.8" r="9.00" fill="#0a1490"/>
<circle cx="28" cy="44.9" r="10.00" fill="#0a1490"/>
<circle cx="24.1" cy="49.5" r="9.00" fill="#0a1490"/>
<circle cx="37.2" cy="56.1" r="11.00" fill="#0a1490"/>
<circle cx="26" cy="64" r="9.00" fill="#0a1490"/>
<circle cx="35.2" cy="64.7" r="9.00" fill="#0a1490"/>
<circle cx="37.9" cy="71.2" r="9.00" fill="#0a1490"/>
<circle cx="32.6" cy="80.4" r="9.00" fill="#0a1490"/>
<circle cx="12.9" cy="81.1" r="9.00" fill="#0a1490"/>
<circle cx="24.1" cy="78.5" r="8.00" fill="#0a1490"/>
<circle cx="60.2" cy="71.9" r="10.00" fill="#0a1490"/>
<circle cx="72.7" cy="74.5" r="12.00" fill="#0a1490"/>
<circle cx="82.5" cy="72.5" r="11.00" fill="#0a1490"/>
<circle cx="71.4" cy="81.7" r="9.00" fill="#0a1490"/>
</g>
<g filter="url(#bl2)">
<ellipse cx="7" cy="11.2" rx="7.43" ry="6.75" fill="#0f24b0" transform="rotate(20 7 11.2)"/>
<ellipse cx="7.6" cy="0.5" rx="5.40" ry="4.05" fill="#0a187a"/>
<ellipse cx="22.7" cy="19.7" rx="6.08" ry="5.80" fill="#0f24b0"/>
<ellipse cx="53.6" cy="5.9" rx="6.08" ry="6.75" fill="#0f24b0"/>
<ellipse cx="62.2" cy="14.2" rx="6.75" ry="5.40" fill="#0f24b0" transform="rotate(-10 62.2 14.2)"/>
<ellipse cx="49" cy="20.4" rx="5.40" ry="6.75" fill="#0f24b0"/>
<ellipse cx="70.7" cy="40.3" rx="6.75" ry="6.08" fill="#0f24b0"/>
<ellipse cx="25.4" cy="36.8" rx="6.08" ry="6.08" fill="#0a187a"/>
<ellipse cx="28" cy="44.9" rx="6.75" ry="6.08" fill="#0f24b0" transform="rotate(-20 28 44.9)"/>
<ellipse cx="24.1" cy="49.5" rx="6.08" ry="6.08" fill="#0f24b0"/>
<ellipse cx="37.2" cy="56.1" rx="7.43" ry="5.40" fill="#0f24b0" transform="rotate(25 37.2 56.1)"/>
<ellipse cx="26" cy="64" rx="6.08" ry="6.08" fill="#0f24b0"/>
<ellipse cx="35.2" cy="64.7" rx="6.08" ry="6.08" fill="#0f24b0"/>
<ellipse cx="37.9" cy="71.2" rx="6.08" ry="6.08" fill="#0f24b0"/>
<ellipse cx="32.6" cy="80.4" rx="6.08" ry="5.80" fill="#0f24b0"/>
<ellipse cx="12.9" cy="81.1" rx="6.08" ry="5.80" fill="#0f24b0"/>
<ellipse cx="24.1" cy="78.5" rx="5.40" ry="5.40" fill="#0a187a"/>
<ellipse cx="60.2" cy="71.9" rx="6.08" ry="6.75" fill="#0f24b0"/>
<ellipse cx="72.7" cy="74.5" rx="5.40" ry="8.10" fill="#0f24b0"/>
<ellipse cx="82.5" cy="72.5" rx="7.43" ry="5.40" fill="#0f24b0" transform="rotate(45 82.5 72.5)"/>
<ellipse cx="71.4" cy="81.7" rx="6.08" ry="5.40" fill="#0a187a"/>
</g>
<g filter="url(#bl)">
<ellipse cx="7" cy="11.2" rx="4.95" ry="4.50" fill="#1838ff" transform="rotate(20 7 11.2)"/>
<ellipse cx="7.6" cy="0.5" rx="3.60" ry="2.70" fill="#1229bc"/>
<ellipse cx="22.7" cy="19.7" rx="4.05" ry="3.87" fill="#1838ff"/>
<ellipse cx="53.6" cy="5.9" rx="4.05" ry="4.50" fill="#1838ff"/>
<ellipse cx="62.2" cy="14.2" rx="4.50" ry="3.60" fill="#1838ff" transform="rotate(-10 62.2 14.2)"/>
<ellipse cx="49" cy="20.4" rx="3.60" ry="4.50" fill="#1838ff"/>
<ellipse cx="70.7" cy="40.3" rx="4.50" ry="4.05" fill="#1838ff"/>
<ellipse cx="25.4" cy="36.8" rx="4.05" ry="4.05" fill="#1229bc"/>
<ellipse cx="28" cy="44.9" rx="4.50" ry="4.05" fill="#1838ff" transform="rotate(-20 28 44.9)"/>
<ellipse cx="24.1" cy="49.5" rx="4.05" ry="4.05" fill="#1838ff"/>
<ellipse cx="37.2" cy="56.1" rx="4.95" ry="3.60" fill="#1838ff" transform="rotate(25 37.2 56.1)"/>
<ellipse cx="26" cy="64" rx="4.05" ry="4.05" fill="#1838ff"/>
<ellipse cx="35.2" cy="64.7" rx="4.05" ry="4.05" fill="#1838ff"/>
<ellipse cx="37.9" cy="71.2" rx="4.05" ry="4.05" fill="#1838ff"/>
<ellipse cx="32.6" cy="80.4" rx="4.05" ry="3.87" fill="#1838ff"/>
<ellipse cx="12.9" cy="81.1" rx="4.05" ry="3.87" fill="#1838ff"/>
<ellipse cx="24.1" cy="78.5" rx="3.60" ry="3.60" fill="#1229bc"/>
<ellipse cx="60.2" cy="71.9" rx="4.05" ry="4.50" fill="#1838ff"/>
<ellipse cx="72.7" cy="74.5" rx="3.60" ry="5.40" fill="#1838ff"/>
<ellipse cx="82.5" cy="72.5" rx="4.95" ry="3.60" fill="#1838ff" transform="rotate(45 82.5 72.5)"/>
<ellipse cx="71.4" cy="81.7" rx="4.05" ry="3.60" fill="#1229bc"/>
</g></svg>
<svg x="382.3" y="229.5" width="89" height="84.2" viewBox="0 0 89 84.2" overflow="hidden">
<rect width="89" height="84.2" fill="#040428"/>
<g filter="url(#bl3)" opacity="0.4">
<circle cx="11.5" cy="21.8" r="12.00" fill="#0a1490"/>
<circle cx="20.7" cy="33.7" r="11.00" fill="#0a1490"/>
<circle cx="46.3" cy="15.9" r="11.00" fill="#0a1490"/>
<circle cx="43.7" cy="29.1" r="10.00" fill="#0a1490"/>
<circle cx="52.9" cy="38.3" r="10.00" fill="#0a1490"/>
<circle cx="78.5" cy="16.6" r="11.00" fill="#0a1490"/>
<circle cx="86.4" cy="10" r="10.00" fill="#0a1490"/>
<circle cx="85.8" cy="21.8" r="10.00" fill="#0a1490"/>
<circle cx="79.9" cy="37" r="9.00" fill="#0a1490"/>
<circle cx="71.3" cy="40.2" r="9.00" fill="#0a1490"/>
<circle cx="30.6" cy="41.5" r="10.00" fill="#0a1490"/>
<circle cx="52.9" cy="41.2" r="9.00" fill="#0a1490"/>
<circle cx="66.7" cy="49" r="12.00" fill="#0a1490"/>
<circle cx="78.5" cy="51.7" r="9.00" fill="#0a1490"/>
<circle cx="77.2" cy="62.2" r="9.00" fill="#0a1490"/>
<circle cx="1" cy="69.4" r="10.00" fill="#0a1490"/>
<circle cx="18.1" cy="76.6" r="11.00" fill="#0a1490"/>
<circle cx="33.9" cy="74.7" r="10.00" fill="#0a1490"/>
<circle cx="26.6" cy="80.6" r="9.00" fill="#0a1490"/>
<circle cx="68" cy="74" r="10.00" fill="#0a1490"/>
<circle cx="86.4" cy="69.4" r="10.00" fill="#0a1490"/>
<circle cx="45.7" cy="82.5" r="9.00" fill="#0a1490"/>
<circle cx="8.9" cy="57.6" r="8.00" fill="#0a1490"/>
</g>
<g filter="url(#bl2)">
<ellipse cx="11.5" cy="21.8" rx="8.10" ry="5.40" fill="#0a187a" transform="rotate(40 11.5 21.8)"/>
<ellipse cx="20.7" cy="33.7" rx="7.43" ry="5.40" fill="#0a187a" transform="rotate(-40 20.7 33.7)"/>
<ellipse cx="46.3" cy="15.9" rx="7.43" ry="5.40" fill="#0a187a" transform="rotate(-40 46.3 15.9)"/>
<ellipse cx="43.7" cy="29.1" rx="6.75" ry="5.40" fill="#0a187a" transform="rotate(-20 43.7 29.1)"/>
<ellipse cx="52.9" cy="38.3" rx="6.75" ry="5.40" fill="#0a187a" transform="rotate(-30 52.9 38.3)"/>
<ellipse cx="78.5" cy="16.6" rx="7.43" ry="5.40" fill="#0a187a" transform="rotate(-10 78.5 16.6)"/>
<ellipse cx="86.4" cy="10" rx="5.40" ry="6.75" fill="#070e40"/>
<ellipse cx="85.8" cy="21.8" rx="5.40" ry="6.75" fill="#0a187a"/>
<ellipse cx="79.9" cy="37" rx="6.08" ry="6.08" fill="#0a187a"/>
<ellipse cx="71.3" cy="40.2" rx="6.08" ry="5.67" fill="#0a187a"/>
<ellipse cx="30.6" cy="41.5" rx="6.75" ry="5.67" fill="#0a187a" transform="rotate(-20 30.6 41.5)"/>
<ellipse cx="52.9" cy="41.2" rx="6.08" ry="5.40" fill="#070e40"/>
<ellipse cx="66.7" cy="49" rx="8.10" ry="5.40" fill="#0a187a" transform="rotate(20 66.7 49)"/>
<ellipse cx="78.5" cy="51.7" rx="6.08" ry="6.08" fill="#070e40"/>
<ellipse cx="77.2" cy="62.2" rx="6.08" ry="6.08" fill="#0f24b0"/>
<ellipse cx="1" cy="69.4" rx="5.40" ry="6.75" fill="#0a187a"/>
<ellipse cx="18.1" cy="76.6" rx="7.43" ry="5.40" fill="#0a187a" transform="rotate(-40 18.1 76.6)"/>
<ellipse cx="33.9" cy="74.7" rx="6.75" ry="6.75" fill="#0f24b0"/>
<ellipse cx="26.6" cy="80.6" rx="6.08" ry="5.40" fill="#0a187a"/>
<ellipse cx="68" cy="74" rx="6.08" ry="6.75" fill="#0a187a"/>
<ellipse cx="86.4" cy="69.4" rx="5.40" ry="6.75" fill="#0a187a"/>
<ellipse cx="45.7" cy="82.5" rx="6.08" ry="5.40" fill="#070e40"/>
<ellipse cx="8.9" cy="57.6" rx="5.40" ry="5.40" fill="#070e40"/>
</g>
<g filter="url(#bl)">
<ellipse cx="11.5" cy="21.8" rx="5.40" ry="3.60" fill="#1229bc" transform="rotate(40 11.5 21.8)"/>
<ellipse cx="20.7" cy="33.7" rx="4.95" ry="3.60" fill="#1229bc" transform="rotate(-40 20.7 33.7)"/>
<ellipse cx="46.3" cy="15.9" rx="4.95" ry="3.60" fill="#1229bc" transform="rotate(-40 46.3 15.9)"/>
<ellipse cx="43.7" cy="29.1" rx="4.50" ry="3.60" fill="#1229bc" transform="rotate(-20 43.7 29.1)"/>
<ellipse cx="52.9" cy="38.3" rx="4.50" ry="3.60" fill="#1229bc" transform="rotate(-30 52.9 38.3)"/>
<ellipse cx="78.5" cy="16.6" rx="4.95" ry="3.60" fill="#1229bc" transform="rotate(-10 78.5 16.6)"/>
<ellipse cx="86.4" cy="10" rx="3.60" ry="4.50" fill="#0a1772"/>
<ellipse cx="85.8" cy="21.8" rx="3.60" ry="4.50" fill="#1229bc"/>
<ellipse cx="79.9" cy="37" rx="4.05" ry="4.05" fill="#1229bc"/>
<ellipse cx="71.3" cy="40.2" rx="4.05" ry="3.78" fill="#1229bc"/>
<ellipse cx="30.6" cy="41.5" rx="4.50" ry="3.78" fill="#1229bc" transform="rotate(-20 30.6 41.5)"/>
<ellipse cx="52.9" cy="41.2" rx="4.05" ry="3.60" fill="#0a1772"/>
<ellipse cx="66.7" cy="49" rx="5.40" ry="3.60" fill="#1229bc" transform="rotate(20 66.7 49)"/>
<ellipse cx="78.5" cy="51.7" rx="4.05" ry="4.05" fill="#0a1772"/>
<ellipse cx="77.2" cy="62.2" rx="4.05" ry="4.05" fill="#1838ff"/>
<ellipse cx="1" cy="69.4" rx="3.60" ry="4.50" fill="#1229bc"/>
<ellipse cx="18.1" cy="76.6" rx="4.95" ry="3.60" fill="#1229bc" transform="rotate(-40 18.1 76.6)"/>
<ellipse cx="33.9" cy="74.7" rx="4.50" ry="4.50" fill="#1838ff"/>
<ellipse cx="26.6" cy="80.6" rx="4.05" ry="3.60" fill="#1229bc"/>
<ellipse cx="68" cy="74" rx="4.05" ry="4.50" fill="#1229bc"/>
<ellipse cx="86.4" cy="69.4" rx="3.60" ry="4.50" fill="#1229bc"/>
<ellipse cx="45.7" cy="82.5" rx="4.05" ry="3.60" fill="#0a1772"/>
<ellipse cx="8.9" cy="57.6" rx="3.60" ry="3.60" fill="#0a1772"/>
</g></svg>
<text x="52" y="329.3" font-size="12.8" text-anchor="middle" fill="#111" stroke="#111" stroke-width="0.3">control</text>
<text x="142.3" y="329.3" font-size="12.8" text-anchor="middle" fill="#111" stroke="#111" stroke-width="0.3">D-gal</text>
<text x="240" y="329.3" font-size="12.8" text-anchor="middle" fill="#111" stroke="#111" stroke-width="0.3">10</text>
<text x="338.5" y="329.3" font-size="12.8" text-anchor="middle" fill="#111" stroke="#111" stroke-width="0.3">20</text>
<text x="426.5" y="329.3" font-size="12.8" text-anchor="middle" fill="#111" stroke="#111" stroke-width="0.3">40</text>
<line x1="239.2" y1="336.75" x2="427.5" y2="336.75" stroke="#222" stroke-width="1.3"/>
<text x="301.8" y="356.4" font-size="12.4" fill="#222" stroke="#222" stroke-width="0.3">FEW</text>
<text x="336.6" y="356.4" font-size="12.4" fill="#666" stroke="#666" stroke-width="0.3">(</text>
<text x="341.8" y="356.4" font-size="12.4" fill="#222" textLength="34.2" lengthAdjust="spacingAndGlyphs" stroke="#222" stroke-width="0.3">μg/mL</text>
<text x="377.6" y="356.4" font-size="12.4" fill="#666" stroke="#666" stroke-width="0.3">)</text>
</svg></body></html>
